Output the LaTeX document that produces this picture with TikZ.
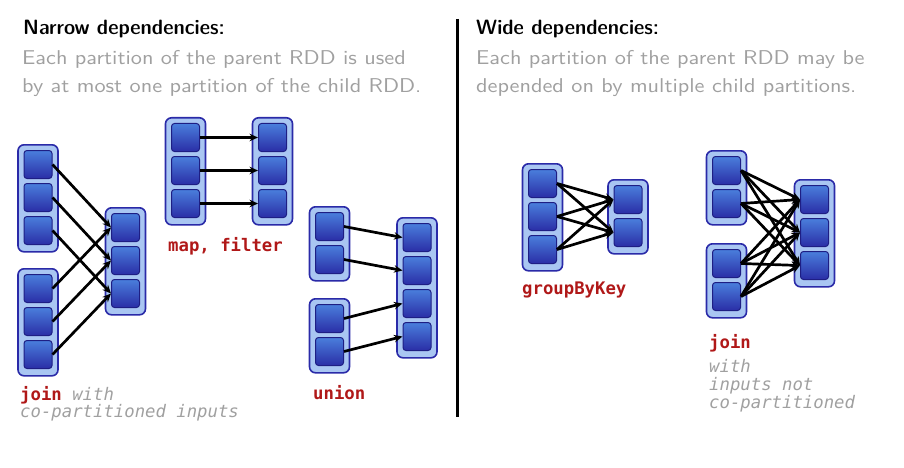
\documentclass[tikz,border=0pt]{standalone}
\usepackage{fontspec}
\setmonofont{DejaVu Sans Mono}
\newfontfamily\titlefont[FakeStretch=1.13]{lmsansdemicond10-regular.otf}
\newfontfamily\subfont[FakeStretch=1.113]{lmsans10-regular.otf}
\usetikzlibrary{arrows.meta}
\definecolor{rddfill}{HTML}{A9C6F2}
\definecolor{rddline}{HTML}{2A2AA8}
\definecolor{parttop}{HTML}{4A7EDC}
\definecolor{partbot}{HTML}{2A2EA6}
\definecolor{partline}{HTML}{1E1E84}
\definecolor{codered}{HTML}{B01818}
\definecolor{notegray}{HTML}{A0A0A0}
\tikzset{
 rdd/.style={draw=rddline, fill=rddfill, line width=1.6pt, rounded corners=6pt, minimum width=40pt, inner sep=0pt},
 part/.style={draw=partline, line width=1pt, top color=parttop, bottom color=partbot, rounded corners=3pt, minimum size=28pt, inner sep=0pt},
 dep/.style={line width=2.7pt, -{Stealth[length=8.5pt,width=7.5pt]}},
 hd/.style={anchor=base west, inner sep=0pt, font=\titlefont\fontsize{20.7}{24}\selectfont},
 sub/.style={anchor=base west, inner sep=0pt, text=notegray, font=\subfont\fontsize{20}{24}\selectfont},
 op/.style={anchor=base west, inner sep=0pt, text=codered, font=\ttfamily\bfseries\fontsize{17.3}{18}\selectfont},
 note/.style={anchor=base west, inner sep=0pt, text=notegray, font=\ttfamily\itshape\fontsize{17.3}{18}\selectfont},
}
\newcommand\rddcol[4]{%
  \pgfmathsetmacro\rddh{33*#4+8}%
  \node[rdd, minimum height=\rddh pt, anchor=north] (#1) at (#2,#3) {};
  \foreach \k in {1,...,#4}{\node[part] (#1-\k) at (#2,{#3+20.5+33*(\k-1)}) {};}
}
\begin{document}
\begin{tikzpicture}[x=1pt,y=-1pt]
\useasboundingbox (0,0) rectangle (904,468);
% headings
\node[hd] (nt) at (23,35) {Narrow dependencies:};
\node[sub] (ns1) at (22,64.5) {Each partition of the parent RDD is used};
\node[sub] (ns2) at (22,92.5) {by at most one partition of the child RDD.};
\node[hd] (wt) at (476,35) {Wide dependencies:};
\node[sub] (ws1) at (476,64.5) {Each partition of the parent RDD may be};
\node[sub] (ws2) at (476,92.5) {depended on by multiple child partitions.};
% divider
\coordinate (dtop) at (457,19);
\coordinate (dbot) at (457,417);
\draw[line width=3pt] (dtop) -- (dbot);
% narrow: join
\rddcol{jA}{38}{144}{3}
\rddcol{jB}{38}{268}{3}
\rddcol{jC}{125.5}{207}{3}
\foreach \i in {1,2,3} {\draw[dep] (jA-\i.east) -- (jC-\i.west);}
\foreach \i in {1,2,3} {\draw[dep] (jB-\i.east) -- (jC-\i.west);}
% narrow: map
\rddcol{mA}{185.5}{117}{3}
\rddcol{mB}{272.5}{117}{3}
\foreach \i in {1,2,3} {\draw[dep] (mA-\i.east) -- (mB-\i.west);}
% narrow: union
\rddcol{uA}{329.5}{206}{2}
\rddcol{uB}{329.5}{298}{2}
\rddcol{uC}{417}{217}{4}
\draw[dep] (uA-1.east) -- (uC-1.west);
\draw[dep] (uA-2.east) -- (uC-2.west);
\draw[dep] (uB-1.east) -- (uC-3.west);
\draw[dep] (uB-2.east) -- (uC-4.west);
% wide: groupByKey
\rddcol{gA}{542.5}{163}{3}
\rddcol{gB}{628}{179}{2}
\foreach \i in {1,2,3} {\foreach \j in {1,2} {\draw[dep] (gA-\i.east) -- (gB-\j.west);}}
% wide: join
\rddcol{wA}{726.5}{150}{2}
\rddcol{wB}{726.5}{243}{2}
\rddcol{wC}{814.5}{179}{3}
\foreach \i in {1,2} {\foreach \j in {1,2,3} {\draw[dep] (wA-\i.east) -- (wC-\j.west); \draw[dep] (wB-\i.east) -- (wC-\j.west);}}
% labels
\node[op] (l1) at (20,400.5) {join {\color{notegray}\mdseries\itshape with}};
\node[note] (l1b) at (20,417) {co-partitioned inputs};
\node[op] (l2) at (168,251) {map, filter};
\node[op] (l3) at (313,399) {union};
\node[op] (l4) at (522,294) {groupByKey};
\node[op] (l5) at (709,348) {join};
\node[note] (l5a) at (709,372) {with};
\node[note] (l5b) at (709,390) {inputs not};
\node[note] (l5c) at (709,408) {co-partitioned};
\end{tikzpicture}
\end{document}
